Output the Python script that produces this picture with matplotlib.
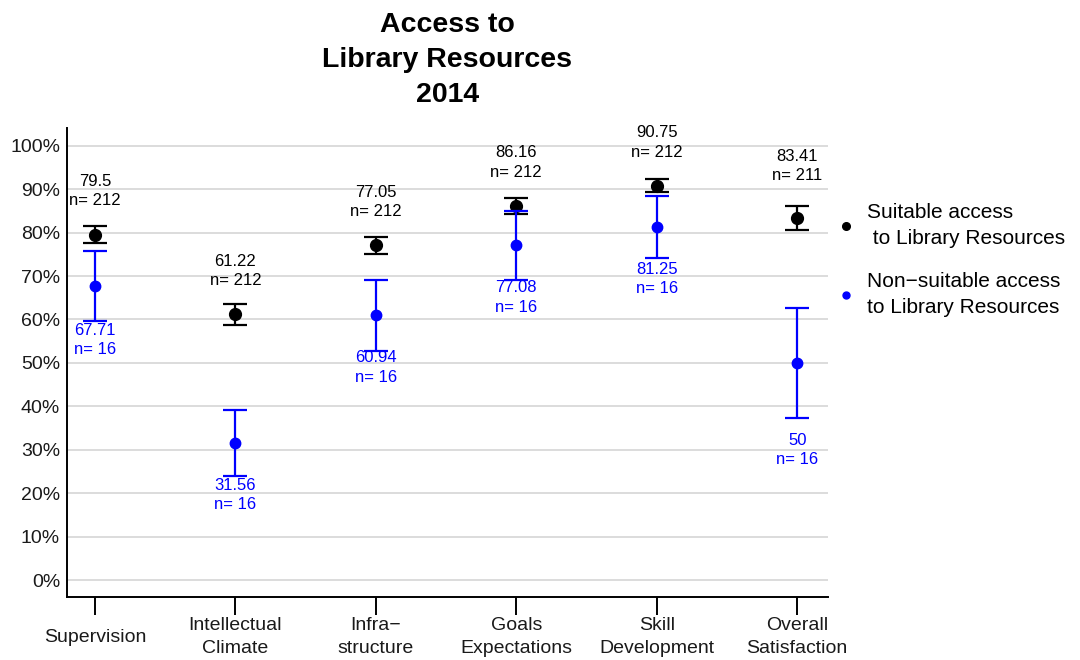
import matplotlib
matplotlib.use("Agg")
import matplotlib.pyplot as plt
from matplotlib.lines import Line2D

plt.rcParams['font.family'] = ['Liberation Sans', 'DejaVu Sans']

# data
categories = ['Supervision', 'Intellectual\nClimate', 'Infra\u2212\nstructure',
              'Goals\nExpectations', 'Skill\nDevelopment', 'Overall\nSatisfaction']
suit_mean = [79.5, 61.22, 77.05, 86.16, 90.75, 83.41]
suit_err = [2.0, 2.4, 2.0, 1.8, 1.5, 2.8]
suit_n = [212, 212, 212, 212, 212, 211]
non_mean = [67.71, 31.56, 60.94, 77.08, 81.25, 50]
non_err = [8.1, 7.6, 8.2, 7.9, 7.1, 12.6]
non_n = [16, 16, 16, 16, 16, 16]
# label offsets (in % units) above / below the points
suit_off = [10, 10, 10, 10, 10, 12]
non_off = [12.5, 12, 12, 12, 12, 20]

yticks = list(range(0, 101, 10))
ytick_labels = [str(v) + '%' for v in yticks]

title = 'Access to\nLibrary Resources\n2014'
leg_labels = ['Suitable access\n to Library Resources',
              'Non\u2212suitable access\nto Library Resources']


def main():
    fig = plt.figure(figsize=(10.8, 6.6), dpi=100)
    ax = fig.add_axes([0.062, 0.0955, 0.7047, 0.7106])

    x = list(range(1, len(categories) + 1))

    ax.errorbar(x, suit_mean, yerr=suit_err, fmt='o', color='black',
                markersize=8.5, elinewidth=1.6, capsize=8.5, capthick=1.6, zorder=3)
    ax.errorbar(x, non_mean, yerr=non_err, fmt='o', color='blue',
                markersize=7.5, elinewidth=1.6, capsize=8.5, capthick=1.6, zorder=4)

    for i in range(len(x)):
        ax.text(x[i], suit_mean[i] + suit_off[i], '{:g}\nn= {}'.format(suit_mean[i], suit_n[i]),
                ha='center', va='center', multialignment='center', fontsize=12,
                color='black', linespacing=1.35)
        ax.text(x[i], non_mean[i] - non_off[i], '{:g}\nn= {}'.format(non_mean[i], non_n[i]),
                ha='center', va='center', multialignment='center', fontsize=12,
                color='blue', linespacing=1.35)

    ax.set_xlim(0.8, 6.22)
    ax.set_ylim(-3.9, 104.1)
    ax.set_xticks(x)
    ax.set_xticklabels(categories, fontsize=14, color='#1a1a1a', linespacing=1.45)
    for lab in ax.get_xticklabels():
        lab.set_verticalalignment('center')
    ax.set_yticks(yticks)
    ax.set_yticklabels(ytick_labels, fontsize=14, color='#1a1a1a')
    ax.tick_params(axis='x', length=13, width=1.4, pad=16)
    ax.tick_params(axis='y', length=0, pad=5)

    ax.grid(axis='y', color='#d9d9d9', linewidth=1.3)
    ax.set_axisbelow(True)
    for s in ['top', 'right']:
        ax.spines[s].set_visible(False)
    for s in ['left', 'bottom']:
        ax.spines[s].set_linewidth(1.4)

    fig.text(0.414, 0.909, title, ha='center', va='center', fontsize=20.5,
             fontweight='bold', linespacing=1.45)

    handles = [Line2D([], [], marker='o', linestyle='none', color='black', markersize=5.5),
               Line2D([], [], marker='o', linestyle='none', color='blue', markersize=5)]
    leg = fig.legend(handles, leg_labels, loc='center left', bbox_to_anchor=(0.774, 0.606),
                     frameon=False, fontsize=15, handlelength=1.0, handletextpad=0.5,
                     labelspacing=1.15, borderpad=0, borderaxespad=0)
    for t in leg.get_texts():
        t.set_linespacing(1.45)

    fig.savefig('out.png', dpi=100)


if __name__ == "__main__":
    main()
